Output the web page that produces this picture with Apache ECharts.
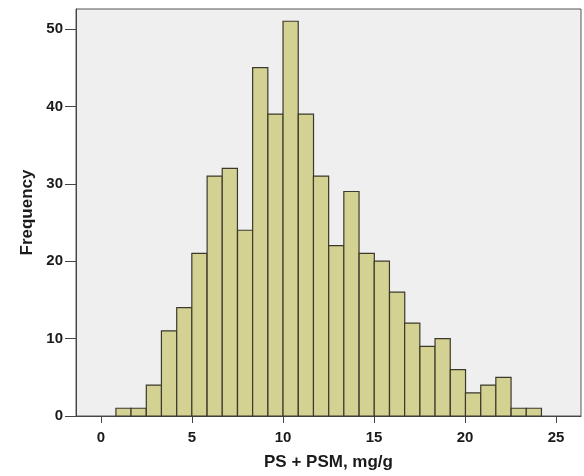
<!DOCTYPE html>
<html>
<head>
<meta charset="utf-8">
<script src="https://cdn.jsdelivr.net/npm/echarts@6/dist/echarts.min.js"></script>
<style>html,body{margin:0;padding:0;background:#fff;}#chart{width:584px;height:476px;}</style>
</head>
<body>
<div id="chart"></div>
<script>
// Histogram bins (centers, mg/g), common bin width and frequencies
const binCenters = [1.24, 2.07, 2.91, 3.74, 4.58, 5.41, 6.25, 7.08, 7.92, 8.75, 9.59, 10.42, 11.26, 12.09,
  12.93, 13.76, 14.60, 15.43, 16.27, 17.10, 17.94, 18.77, 19.61, 20.44, 21.28, 22.11, 22.95, 23.78];
const binWidth = 0.835;
const frequencies = [1, 1, 4, 11, 14, 21, 31, 32, 24, 45, 39, 51, 39, 31,
  22, 29, 21, 20, 16, 12, 9, 10, 6, 3, 4, 5, 1, 1];
const xTicks = [0, 5, 10, 15, 20, 25];
const yTicks = [0, 10, 20, 30, 40, 50];
const xTitle = 'PS + PSM, mg/g';
const yTitle = 'Frequency';

const chart = echarts.init(document.getElementById('chart'), null, {renderer: 'canvas'});
const font = 'Liberation Sans, Arial, sans-serif';
const data = binCenters.map((c, i) => [c, frequencies[i]]);

chart.setOption({
  animation: false,
  backgroundColor: '#ffffff',
  grid: {
    left: 76, top: 9, right: 3, bottom: 60,
    show: true, backgroundColor: '#efefef', borderColor: '#555555', borderWidth: 1
  },
  xAxis: {
    type: 'value', min: -1.37, max: 26.37,
    name: xTitle, nameLocation: 'middle', nameGap: 38,
    nameTextStyle: {fontFamily: font, fontWeight: 'bold', fontSize: 17, color: '#1a1a1a'},
    axisLine: {show: true, onZero: false, lineStyle: {color: '#444444', width: 1}},
    axisTick: {show: true, length: 7, lineStyle: {color: '#444444'}, customValues: xTicks},
    axisLabel: {fontFamily: font, fontWeight: 'bold', fontSize: 15, color: '#1a1a1a', margin: 14, customValues: xTicks},
    splitLine: {show: false}
  },
  yAxis: {
    type: 'value', min: 0, max: 52.58,
    name: yTitle, nameLocation: 'middle', nameGap: 40, nameRotate: 90,
    nameTextStyle: {fontFamily: font, fontWeight: 'bold', fontSize: 17, color: '#1a1a1a'},
    axisLine: {show: true, onZero: false, lineStyle: {color: '#444444', width: 1}},
    axisTick: {show: true, length: 11, lineStyle: {color: '#444444'}, customValues: yTicks},
    axisLabel: {fontFamily: font, fontWeight: 'bold', fontSize: 15, color: '#1a1a1a', margin: 13, customValues: yTicks},
    splitLine: {show: false}
  },
  series: [{
    type: 'custom',
    data: data,
    encode: {x: 0, y: 1},
    renderItem: function (params, api) {
      const c = api.value(0), v = api.value(1);
      const p0 = api.coord([c - binWidth / 2, v]);
      const p1 = api.coord([c + binWidth / 2, 0]);
      return {
        type: 'rect',
        shape: {x: p0[0], y: p0[1], width: p1[0] - p0[0], height: p1[1] - p0[1]},
        style: {fill: '#d4d293', stroke: '#3b392b', lineWidth: 1.2}
      };
    }
  }]
});
</script>
</body>
</html>
